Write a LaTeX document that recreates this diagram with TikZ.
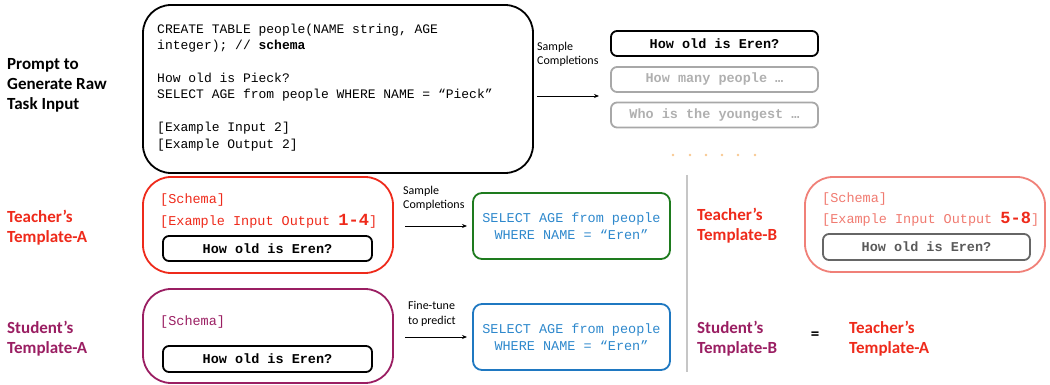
\documentclass[tikz,border=0pt]{standalone}
\usepackage{fontspec}
\usetikzlibrary{arrows.meta}
\newfontfamily\cour{Liberation Mono}
\newfontfamily\cali{Carlito}
\definecolor{tred}{HTML}{EE2A1B}
\definecolor{spur}{HTML}{9A1E62}
\definecolor{grn}{HTML}{1E7B1E}
\definecolor{bbord}{HTML}{1F78C1}
\definecolor{btext}{HTML}{2E88CC}
\definecolor{lred}{HTML}{F08078}
\definecolor{ltext}{HTML}{F07A70}
\definecolor{gbox}{HTML}{A8A8A8}
\definecolor{gtext}{HTML}{B0B0B0}
\definecolor{dots}{HTML}{F8C890}
\begin{document}
\begin{tikzpicture}[x=1pt,y=-1pt,
  bigbox/.style={draw,line width=1.8pt,rounded corners=28pt,inner sep=0pt},
  qbox/.style={draw,line width=1.8pt,rounded corners=6pt,inner sep=0pt,font=\cour\bfseries\fontsize{13.5}{15}\selectfont},
  obox/.style={draw,line width=1.8pt,rounded corners=9pt,inner sep=0pt,font=\cour\fontsize{13.5}{17}\selectfont,text=btext,align=center},
  code/.style={anchor=base west,inner sep=0pt,font=\cour\fontsize{13}{15}\selectfont},
  rcode/.style={anchor=base west,inner sep=0pt,font=\cour\fontsize{13.5}{15}\selectfont},
  lab/.style={anchor=north west,inner sep=0pt,align=left,font=\cali\bfseries\fontsize{17}{20}\selectfont},
  small/.style={anchor=north west,inner sep=0pt,align=left,font=\cali\fontsize{12}{14.5}\selectfont},
  arr/.style={-{Stealth[length=5pt,width=4pt]},line width=0.8pt}]
\useasboundingbox (0,0) rectangle (1050,385);
% ---- top row
\node[lab] (plab) at (7,58.5) {Prompt to\\Generate Raw\\Task Input};
\node[bigbox,minimum width=390pt,minimum height=168pt] (prompt) at (338,89) {};
\node[code] (c1) at (157,34) {CREATE TABLE people(NAME string, AGE};
\node[code] (c2) at (157,50) {integer); // \textbf{schema}};
\node[code] (c3) at (157,83) {How old is Pieck?};
\node[code] (c4) at (157,99) {SELECT AGE from people WHERE NAME = “Pieck”};
\node[code] (c5) at (157,132) {[Example Input 2]};
\node[code] (c6) at (157,149) {[Example Output 2]};
\coordinate (a1s) at (537,96);
\coordinate (a1e) at (599,96);
\draw[arr] (a1s) -- (a1e);
\node[small] (s1) at (537,41.5) {Sample\\Completions};
\node[qbox,minimum width=207pt,minimum height=25pt] (q1) at (714.5,43.5) {How old is Eren?};
\node[qbox,draw=gbox,text=gtext,minimum width=207pt,minimum height=25pt] (q2) at (714.5,79.5) {How many people …};
\node[qbox,draw=gbox,text=gtext,minimum width=207pt,minimum height=25pt] (q3) at (714.5,115) {Who is the youngest …};
\foreach \i/\x in {1/673,2/690,3/706,4/722,5/738,6/755}
  \fill[dots] (\x,155) circle (1.3pt);
% ---- teacher A
\node[lab,text=tred] (tA) at (7,209.5) {Teacher’s\\Template-A};
\node[bigbox,draw=tred,minimum width=250pt,minimum height=96pt] (tAbox) at (268,225) {};
\node[rcode,text=tred] (tA1) at (160,204) {[Schema]};
\node[rcode,text=tred] (tA2) at (160,225) {[Example Input Output {\bfseries\fontsize{17}{17}\selectfont 1-4}]};
\node[qbox,minimum width=209pt,minimum height=25pt] (tAq) at (267.5,248.5) {How old is Eren?};
\coordinate (a2s) at (405,226);
\coordinate (a2e) at (467,226);
\draw[arr] (a2s) -- (a2e);
\node[small] (s2) at (403,185.5) {Sample\\Completions};
\node[obox,draw=grn,minimum width=197pt,minimum height=66pt] (gout) at (571.5,226) {SELECT AGE from people\\WHERE NAME = “Eren”};
% ---- student A
\node[lab,text=spur] (sA) at (7,320.5) {Student’s\\Template-A};
\node[bigbox,draw=spur,minimum width=250pt,minimum height=94pt] (sAbox) at (268,336) {};
\node[rcode,text=spur] (sA1) at (160,325) {[Schema]};
\node[qbox,minimum width=209pt,minimum height=26pt] (sAq) at (267.5,359) {How old is Eren?};
\coordinate (a3s) at (405,337);
\coordinate (a3e) at (467,337);
\draw[arr] (a3s) -- (a3e);
\node[small] (s3) at (408,301.5) {Fine-tune\\to predict};
\node[obox,draw=bbord,minimum width=197pt,minimum height=66pt] (bout) at (571.5,337) {SELECT AGE from people\\WHERE NAME = “Eren”};
% ---- divider
\coordinate (d1) at (687,175);
\coordinate (d2) at (687,372);
\draw[gray!45,line width=1.5pt] (d1) -- (d2);
% ---- teacher B
\node[lab,text=tred] (tB) at (697,207.5) {Teacher’s\\Template-B};
\node[bigbox,draw=lred,minimum width=240pt,minimum height=95pt] (tBbox) at (925,224.5) {};
\node[rcode,text=ltext] (tB1) at (822,202) {[Schema]};
\node[rcode,text=ltext] (tB2) at (822,223) {[Example Input Output {\bfseries\fontsize{17}{17}\selectfont\color{tred}5-8}]};
\node[qbox,draw=black!60,text=black!65,minimum width=207pt,minimum height=26pt] (tBq) at (926.5,247) {How old is Eren?};
% ---- student B
\node[lab,text=spur] (sB) at (697,320.5) {Student’s\\Template-B};
\node[inner sep=0pt,font=\cali\bfseries\fontsize{17}{17}\selectfont] (eq) at (815,336) {=};
\node[lab,text=tred] (tAeq) at (849,320.5) {Teacher’s\\Template-A};
\end{tikzpicture}
\end{document}
